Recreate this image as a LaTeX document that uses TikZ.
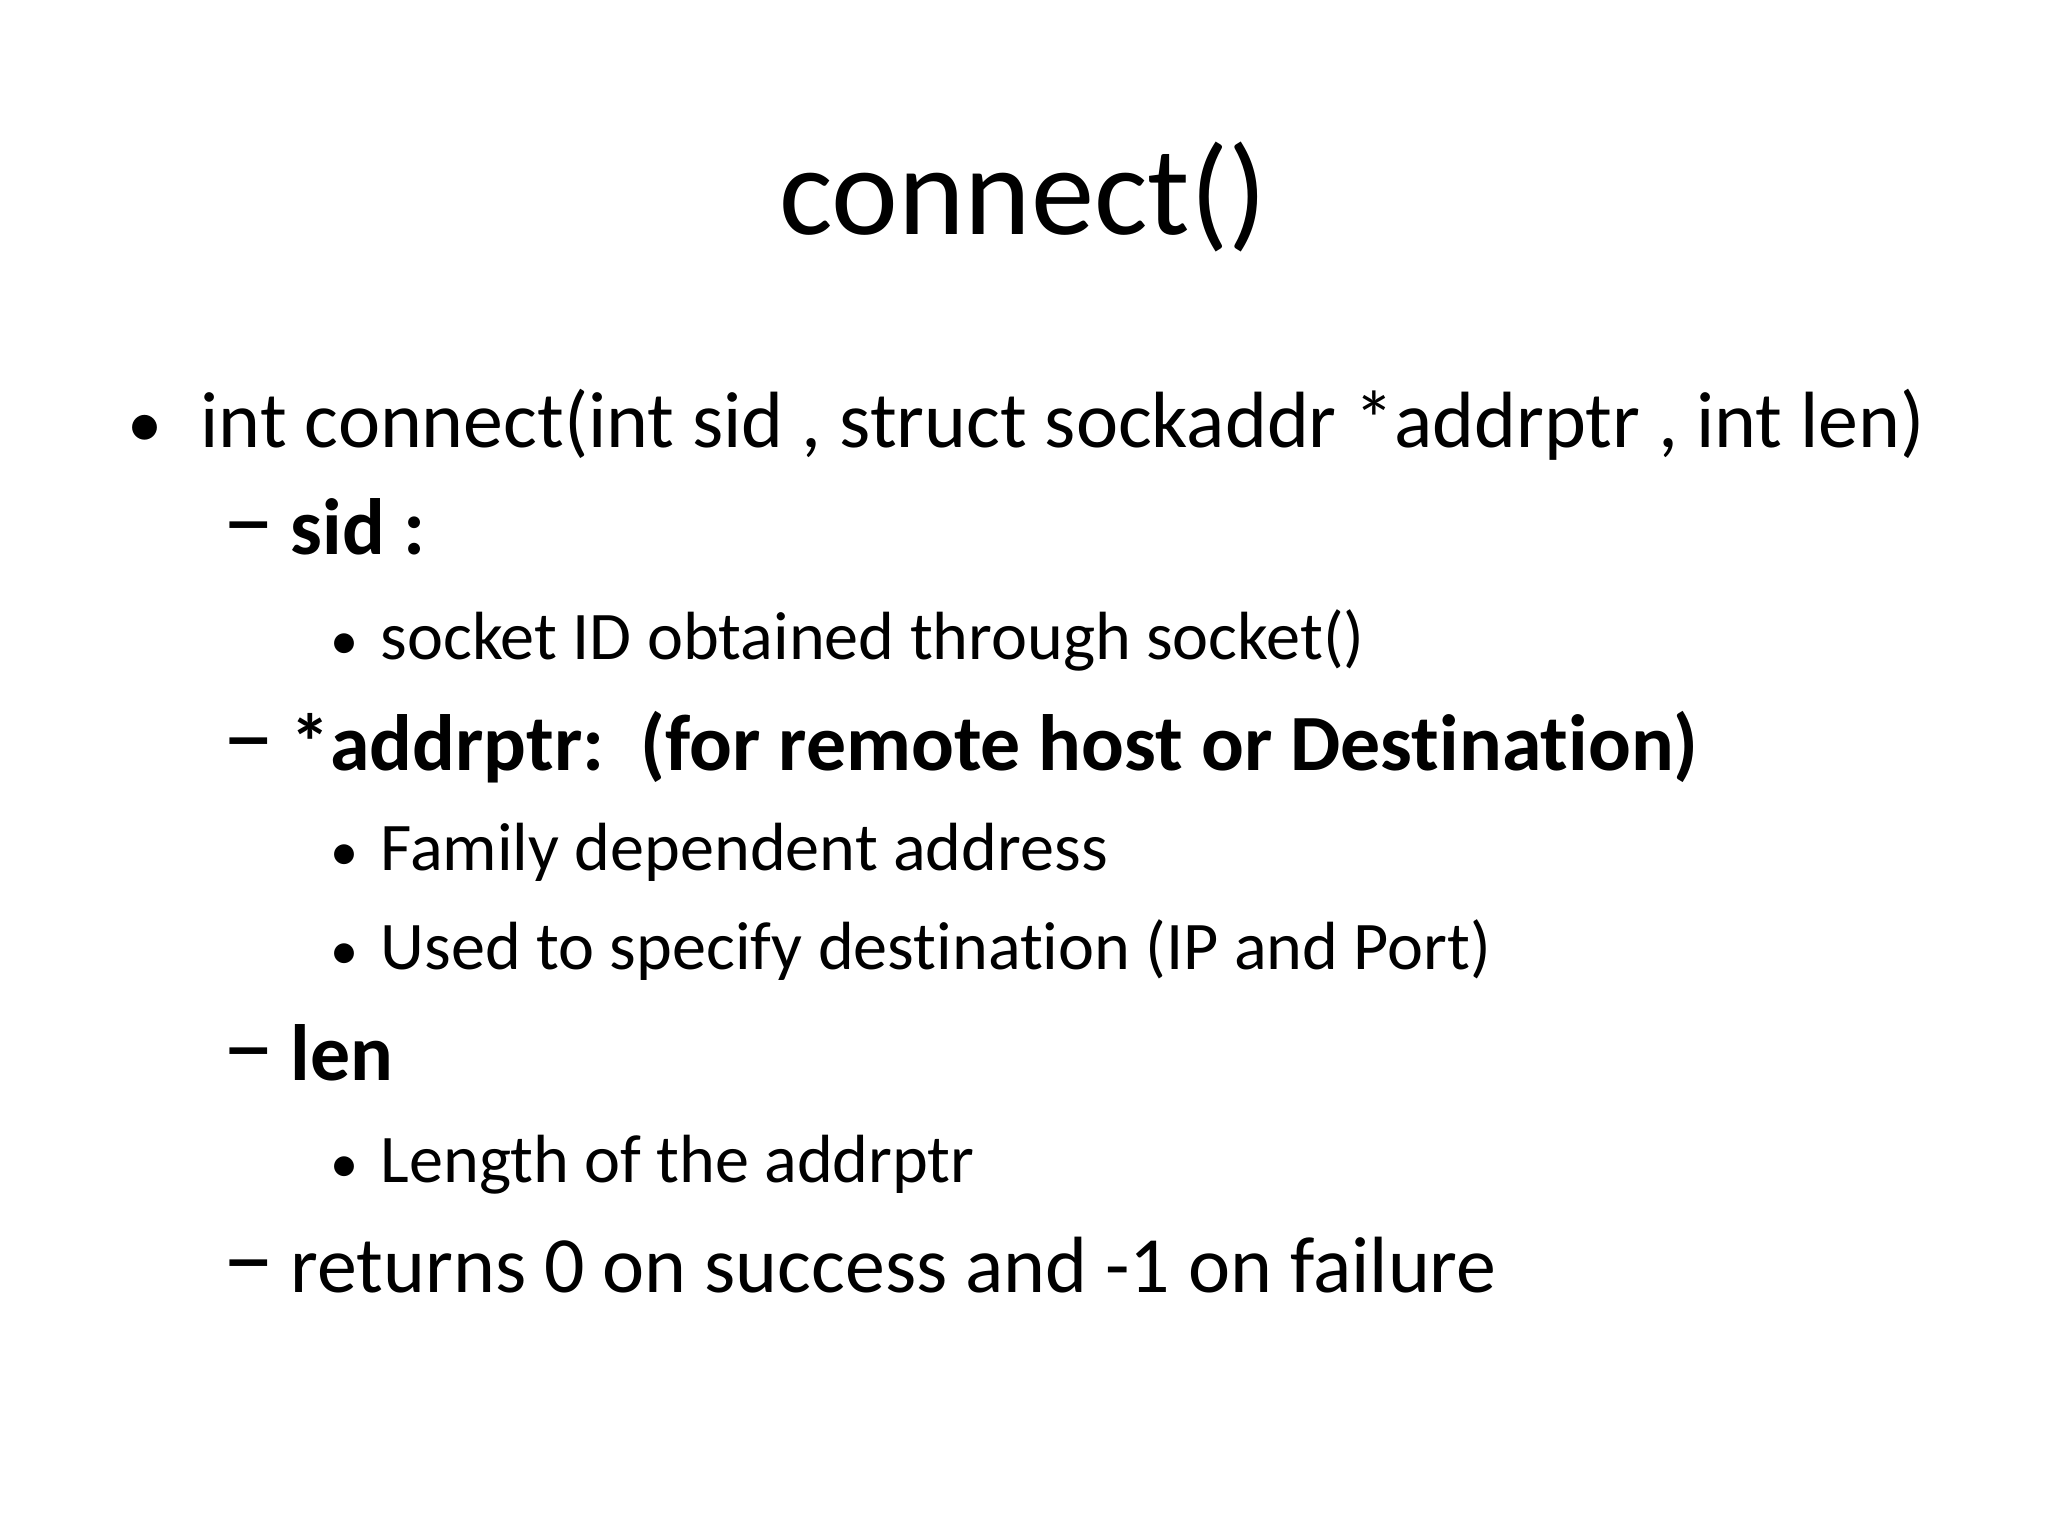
\documentclass[tikz,border=0pt]{standalone}
\usepackage{fontspec}
\setmainfont{Carlito}[Ligatures=NoCommon]
\begin{document}
\begin{tikzpicture}[x=1cm,y=1cm,
  lone/.style={anchor=base west,inner sep=0pt,font=\fontsize{22.7}{27}\selectfont},
  ltwo/.style={anchor=base west,inner sep=0pt,font=\fontsize{22.7}{27}\selectfont},
  lthree/.style={anchor=base west,inner sep=0pt,font=\fontsize{19.4}{23}\selectfont},
  bul/.style={anchor=base west,inner sep=0pt,font=\fontsize{16}{19}\selectfont},
  dsh/.style={anchor=base west,inner sep=0pt,font=\fontsize{30}{34}\selectfont}]
\useasboundingbox[fill=white] (0,0) rectangle (20.48,15.36);
\node[anchor=base,inner sep=0pt,font=\fontsize{36}{42}\selectfont] (title) at (10.23,13.01) {connect()};
\node[bul,font=\fontsize{20}{24}\selectfont] (b1) at (1.27,10.88) {•};
\node[lone] (t1) at (2.0,10.88) {int connect(int sid , struct sockaddr *addrptr , int len)};
\node[dsh] (d1) at (2.22,9.81) {–};
\node[ltwo] (t2) at (2.9,9.81) {\textbf{sid :}};
\node[bul] (b3) at (3.3,8.76) {•};
\node[lthree] (t3) at (3.8,8.76) {socket ID obtained through socket()};
\node[dsh] (d2) at (2.22,7.65) {–};
\node[ltwo] (t4) at (2.9,7.65) {\textbf{*addrptr:\ \ (for remote host or Destination)}};
\node[bul] (b4) at (3.3,6.65) {•};
\node[lthree] (t5) at (3.8,6.65) {Family dependent address};
\node[bul] (b5) at (3.3,5.66) {•};
\node[lthree] (t6) at (3.8,5.66) {Used to specify destination (IP and Port)};
\node[dsh] (d3) at (2.22,4.55) {–};
\node[ltwo] (t7) at (2.9,4.55) {\textbf{len}};
\node[bul] (b6) at (3.3,3.53) {•};
\node[lthree] (t8) at (3.8,3.53) {Length of the addrptr};
\node[dsh] (d4) at (2.22,2.43) {–};
\node[ltwo] (t9) at (2.9,2.43) {returns 0 on success and -1 on failure};
\end{tikzpicture}
\end{document}
